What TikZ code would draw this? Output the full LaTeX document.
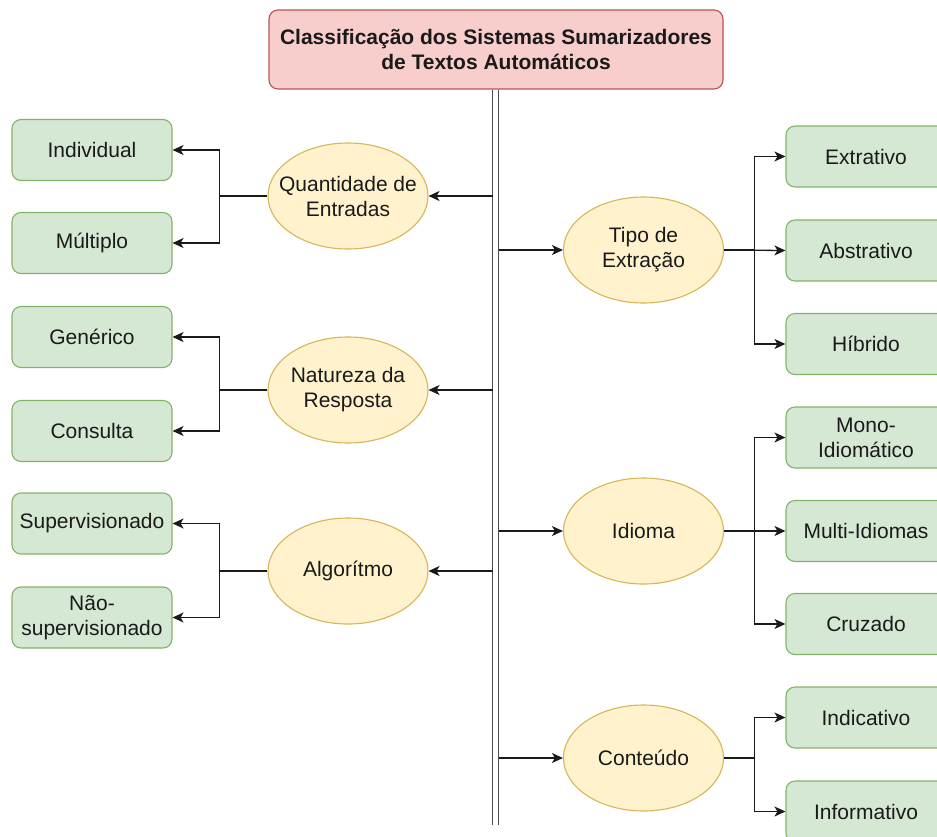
\documentclass[tikz,border=0pt]{standalone}
\usepackage{fontspec}
\setmainfont{Liberation Sans}
\usetikzlibrary{shapes.geometric,arrows.meta}

\definecolor{leafFill}{HTML}{D5E8D4}
\definecolor{leafDraw}{HTML}{82B366}
\definecolor{topicFill}{HTML}{FFF2CC}
\definecolor{topicDraw}{HTML}{D6B656}
\definecolor{rootFill}{HTML}{F8CECC}
\definecolor{rootDraw}{HTML}{B85450}
\definecolor{ink}{HTML}{1A1A1A}

\begin{document}
\begin{tikzpicture}[x=1pt,y=-1pt,
  every node/.style={font=\fontsize{21}{25}\selectfont, text=ink, align=center},
  root/.style={draw=rootDraw, fill=rootFill, rounded corners=9pt,
    minimum width=454pt, minimum height=79pt, inner sep=0pt, line width=1.1pt,
    font=\fontsize{21}{25}\selectfont\bfseries},
  leaf/.style={draw=leafDraw, fill=leafFill, rounded corners=9pt,
    minimum width=160pt, minimum height=61pt, inner sep=0pt, line width=1.1pt},
  topic/.style={ellipse, draw=topicDraw, fill=topicFill,
    minimum width=160pt, minimum height=106pt, inner xsep=-20pt, inner ysep=0pt,
    line width=1.1pt},
  link/.style={draw=ink, line width=1.3pt, -{Stealth[length=11pt,width=10pt,inset=3pt]}},
  trunk/.style={draw=black!70, line width=1.3pt, double=white, double distance=4.7pt}
]
\path[use as bounding box, clip] (0,0) rectangle (937,836);

% title
\node[root] (root) at (496,49.5) {Classificação dos Sistemas Sumarizadores\\de Textos Automáticos};

% central double spine
\coordinate (spineTop) at (495.5,89.5);
\coordinate (spineEnd) at (495.5,825);
\coordinate (spineL) at (492.5,89.5);
\coordinate (spineR) at (498.5,89.5);
\draw[trunk] (spineTop) -- (spineEnd);

% left-hand categories
\node[topic] (qtd) at (348,196) {Quantidade de\\Entradas};
\node[topic] (nat) at (348,390) {Natureza da\\Resposta};
\node[topic] (alg) at (348,571) {Algorítmo};

\node[leaf] (ind) at (92,150) {Individual};
\node[leaf] (mul) at (92,243) {Múltiplo};
\node[leaf] (gen) at (92,337) {Genérico};
\node[leaf] (con) at (92,431) {Consulta};
\node[leaf] (sup) at (92,523.5) {Supervisionado};
\node[leaf] (nsu) at (92,617.5) {Não-\\supervisionado};

% right-hand categories
\node[topic] (tip) at (643.5,250) {Tipo de\\Extração};
\node[topic] (idi) at (643.5,531) {Idioma};
\node[topic] (cnt) at (643.5,758) {Conteúdo};

\node[leaf] (ext) at (866,156.5) {Extrativo};
\node[leaf] (abs) at (866,250.5) {Abstrativo};
\node[leaf] (hib) at (866,344) {Híbrido};
\node[leaf] (mon) at (866,437.5) {Mono-\\Idiomático};
\node[leaf] (mli) at (866,531) {Multi-Idiomas};
\node[leaf] (cru) at (866,624) {Cruzado};
\node[leaf] (ind2) at (866,717.5) {Indicativo};
\node[leaf] (inf) at (866,811.5) {Informativo};

% spine to categories
\draw[link] (spineL |- qtd) -- (qtd.east);
\draw[link] (spineL |- nat) -- (nat.east);
\draw[link] (spineL |- alg) -- (alg.east);
\draw[link] (spineR |- tip) -- (tip.west);
\draw[link] (spineR |- idi) -- (idi.west);
\draw[link] (spineR |- cnt) -- (cnt.west);

% categories to leaves (left)
\draw[link] (qtd.west) -- ++(-48,0) |- (ind.east);
\draw[link] (qtd.west) -- ++(-48,0) |- (mul.east);
\draw[link] (nat.west) -- ++(-48,0) |- (gen.east);
\draw[link] (nat.west) -- ++(-48,0) |- (con.east);
\draw[link] (alg.west) -- ++(-48,0) |- (sup.east);
\draw[link] (alg.west) -- ++(-48,0) |- (nsu.east);

% categories to leaves (right)
\draw[link] (tip.east) -- ++(30.5,0) |- (ext.west);
\draw[link] (tip.east) -- (abs.west);
\draw[link] (tip.east) -- ++(30.5,0) |- (hib.west);
\draw[link] (idi.east) -- ++(30.5,0) |- (mon.west);
\draw[link] (idi.east) -- (mli.west);
\draw[link] (idi.east) -- ++(30.5,0) |- (cru.west);
\draw[link] (cnt.east) -- ++(30.5,0) |- (ind2.west);
\draw[link] (cnt.east) -- ++(30.5,0) |- (inf.west);
\end{tikzpicture}
\end{document}
